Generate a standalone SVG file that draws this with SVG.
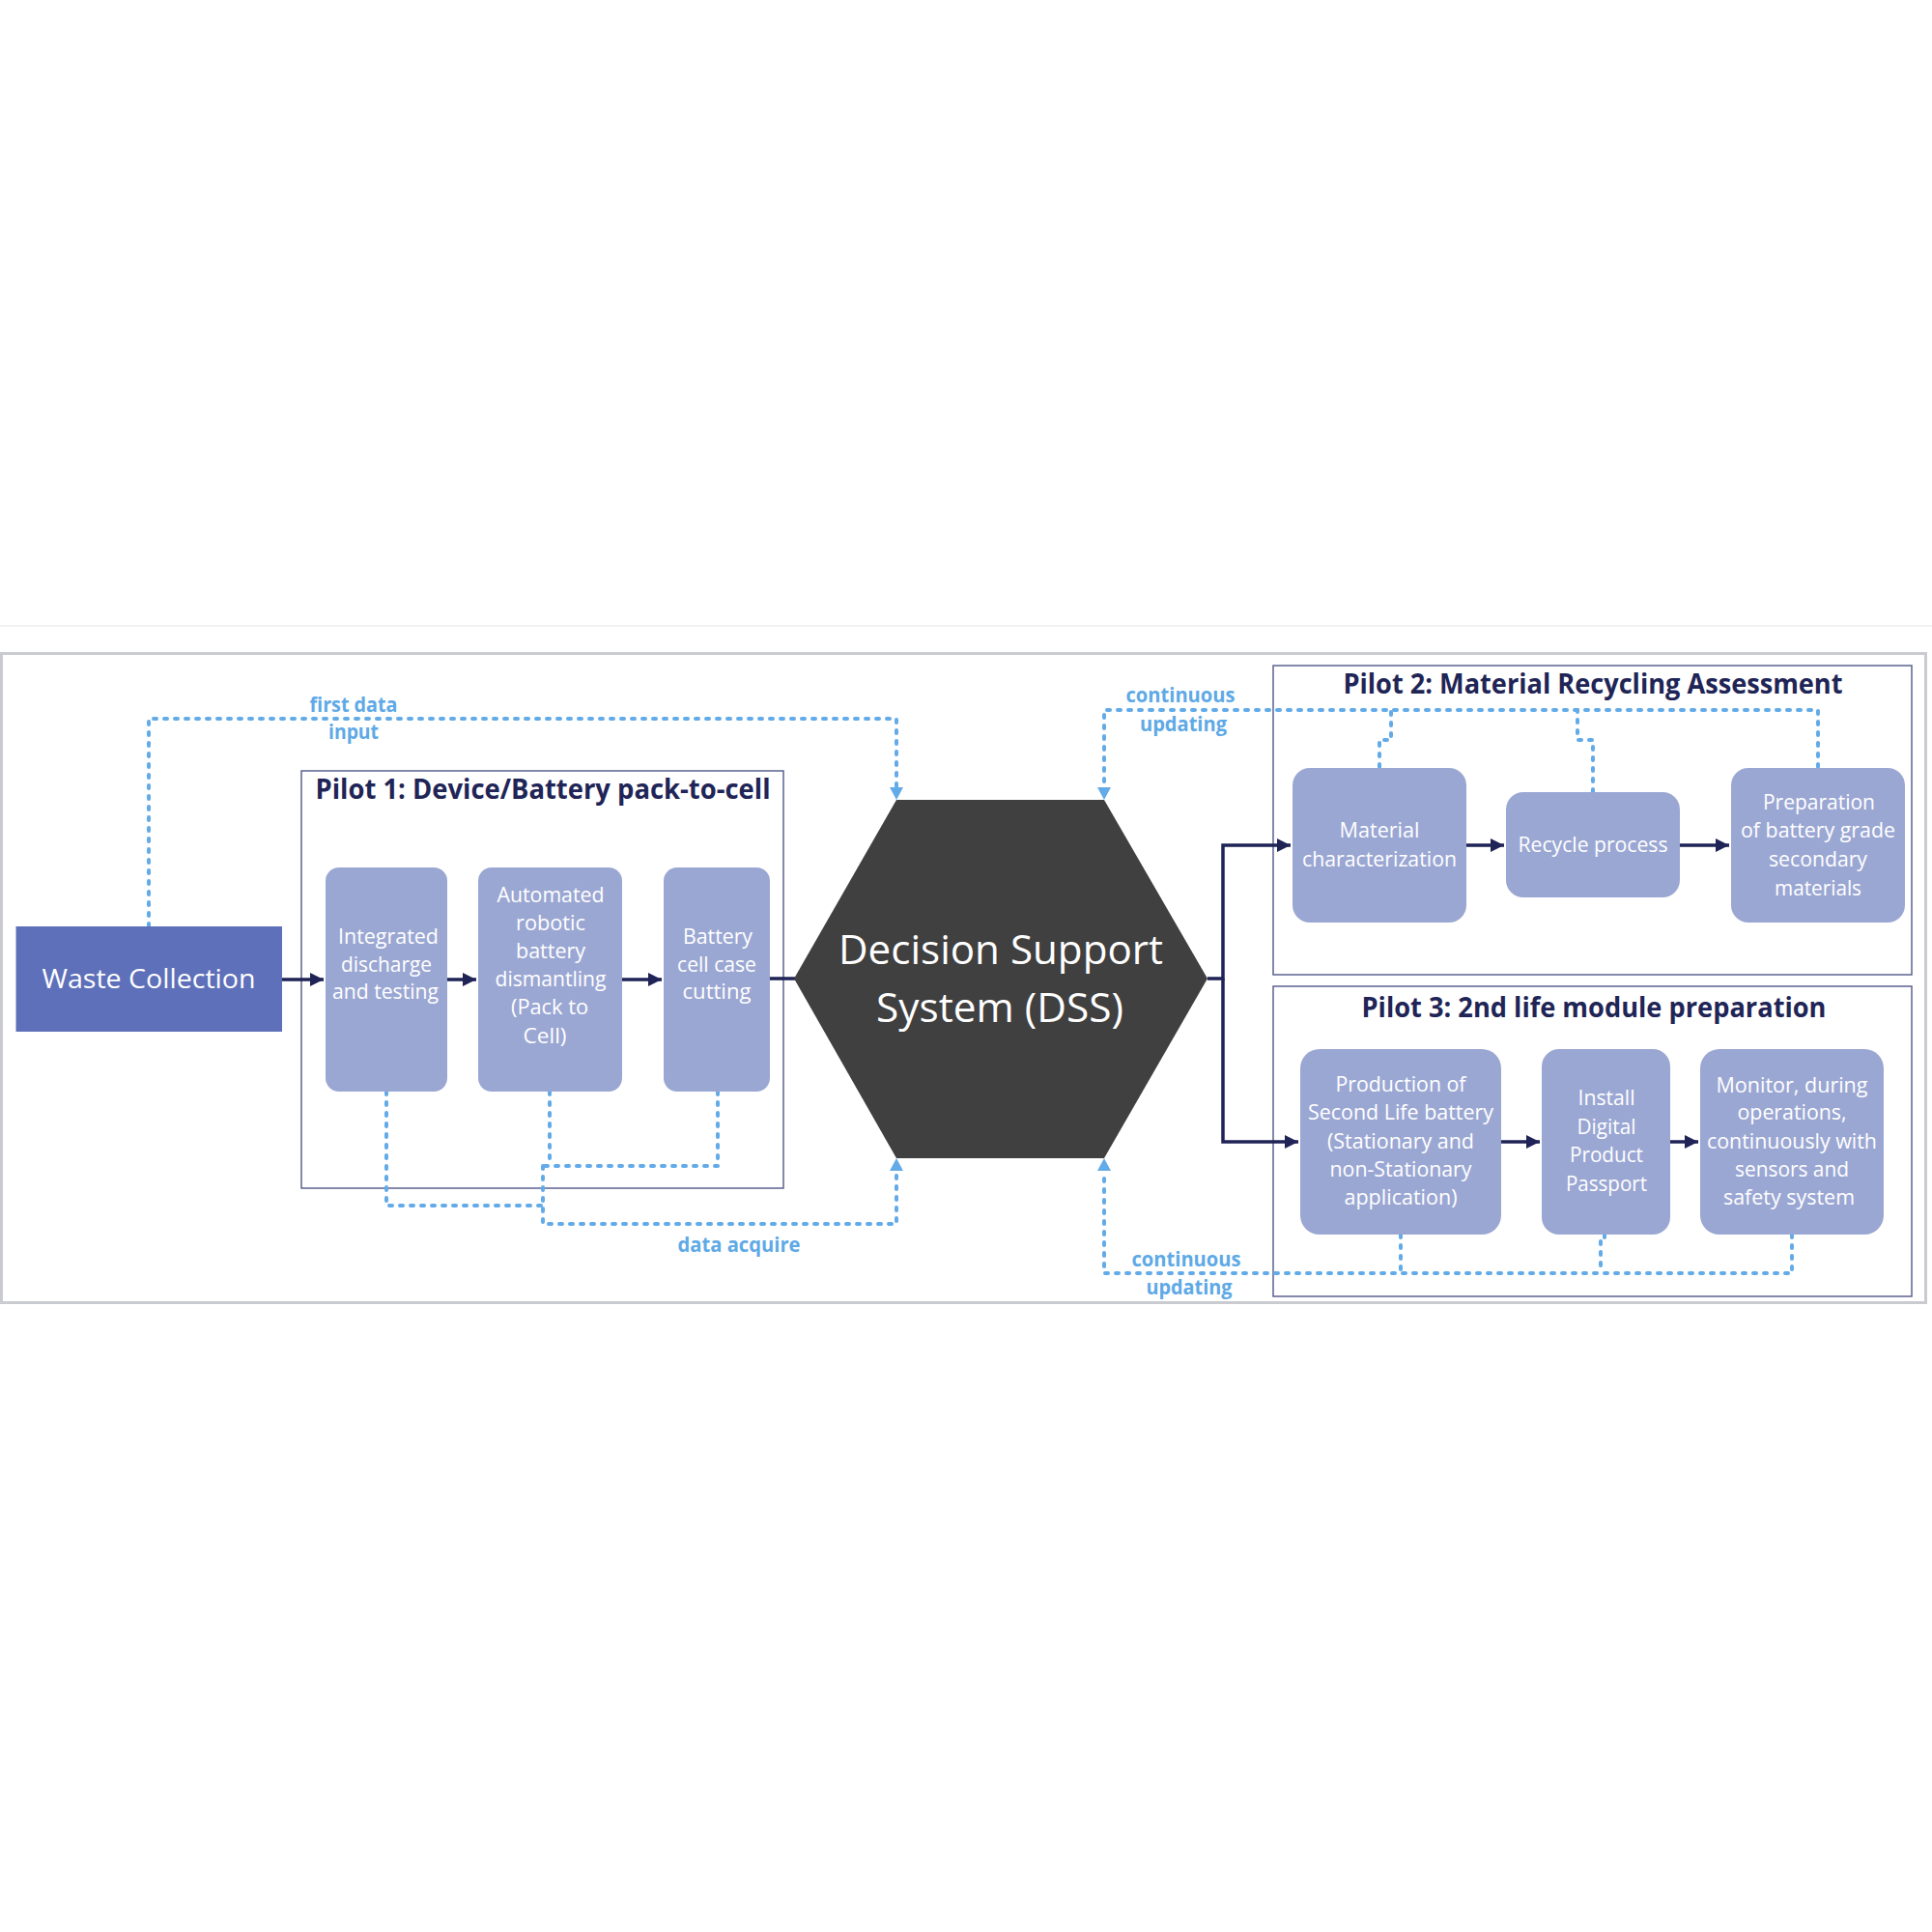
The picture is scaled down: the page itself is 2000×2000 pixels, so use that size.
<svg xmlns="http://www.w3.org/2000/svg" width="2000" height="2000" viewBox="0 0 2000 2000">
<style>
.box{fill:#9BA7D3;}
.bt{font-family:"Open Sans","Liberation Sans",sans-serif;font-size:22px;fill:#ffffff;text-anchor:middle;}
.title{font-family:"Open Sans","Liberation Sans",sans-serif;font-size:28px;font-weight:bold;fill:#1F2556;text-anchor:middle;}
.lbl{font-family:"Open Sans","Liberation Sans",sans-serif;font-size:21px;font-weight:bold;fill:#5EA9E6;text-anchor:middle;}
.pilot{fill:none;stroke:#5C6290;stroke-width:1.5;}
.solid{fill:none;stroke:#1F2356;stroke-width:3.5;}
.dash{fill:none;stroke:#62ABE8;stroke-width:4;stroke-dasharray:3 8;stroke-linecap:round;stroke-linejoin:round;}
</style>
<defs>
<marker id="arr" markerWidth="4" markerHeight="4" refX="4" refY="2" orient="auto" markerUnits="strokeWidth">
<path d="M0,0 L4,2 L0,4 Z" fill="#1F2356"/>
</marker>
</defs>
<rect x="0" y="0" width="2000" height="2000" fill="#ffffff"/>
<line x1="0" y1="648" x2="2000" y2="648" stroke="#EEEEEE" stroke-width="1.5"/>
<rect x="1.5" y="676.5" width="1992" height="672" fill="#ffffff" stroke="#C9CBD0" stroke-width="3"/>

<g id="pilot1">
<rect class="pilot" x="312" y="798" width="499" height="432"/>
<text class="title" x="562" y="827" textLength="471" lengthAdjust="spacingAndGlyphs">Pilot 1: Device/Battery pack-to-cell</text>
</g>
<g id="pilot2">
<rect class="pilot" x="1318" y="689" width="661" height="320"/>
<text class="title" x="1649" y="718" textLength="517" lengthAdjust="spacingAndGlyphs">Pilot 2: Material Recycling Assessment</text>
</g>
<g id="pilot3">
<rect class="pilot" x="1318" y="1021" width="661" height="321"/>
<text class="title" x="1650" y="1053" textLength="481" lengthAdjust="spacingAndGlyphs">Pilot 3: 2nd life module preparation</text>
</g>

<g id="connectors">
<path class="solid" d="M292,1014 H335" marker-end="url(#arr)"/>
<path class="solid" d="M463,1014 H493" marker-end="url(#arr)"/>
<path class="solid" d="M644,1014 H685" marker-end="url(#arr)"/>
<path class="solid" d="M797,1013 H823"/>
<path class="solid" d="M1250,1013 H1266 V875 H1336" marker-end="url(#arr)"/>
<path class="solid" d="M1266,1013 V1182 H1344" marker-end="url(#arr)"/>
<path class="solid" d="M1518,875 H1557" marker-end="url(#arr)"/>
<path class="solid" d="M1739,875 H1790" marker-end="url(#arr)"/>
<path class="solid" d="M1554,1182 H1594" marker-end="url(#arr)"/>
<path class="solid" d="M1729,1182 H1758" marker-end="url(#arr)"/>

<path class="dash" d="M154,959 V744 H928 V816"/>
<path d="M921,815 L935,815 L928,828 Z" fill="#62ABE8"/>
<path class="dash" d="M1882,794 V735 H1143 V816"/>
<path d="M1136,815 L1150,815 L1143,828 Z" fill="#62ABE8"/>
<path class="dash" d="M1428,794 V766 H1440 V735"/>
<path class="dash" d="M1649,820 V766 H1633 V735"/>
<path class="dash" d="M1855,1278 V1318 H1143 V1212"/>
<path d="M1136,1212 L1150,1212 L1143,1199 Z" fill="#62ABE8"/>
<path class="dash" d="M1450,1278 V1318"/>
<path class="dash" d="M1661,1278 V1284 H1657 V1318"/>
<path class="dash" d="M400,1130 V1248 H562"/>
<path class="dash" d="M743,1130 V1207 H562"/>
<path class="dash" d="M569,1130 V1207"/>
<path class="dash" d="M562,1207 V1267 H928 V1212"/>
<path d="M921,1212 L935,1212 L928,1199 Z" fill="#62ABE8"/>

<text class="lbl" x="366" y="737" textLength="91" lengthAdjust="spacingAndGlyphs">first data</text>
<text class="lbl" x="366" y="765" textLength="52" lengthAdjust="spacingAndGlyphs">input</text>
<text class="lbl" x="765" y="1296" textLength="127" lengthAdjust="spacingAndGlyphs">data acquire</text>
<text class="lbl" x="1222" y="727" textLength="113" lengthAdjust="spacingAndGlyphs">continuous</text>
<text class="lbl" x="1225" y="757" textLength="90" lengthAdjust="spacingAndGlyphs">updating</text>
<text class="lbl" x="1228" y="1311" textLength="113" lengthAdjust="spacingAndGlyphs">continuous</text>
<text class="lbl" x="1231" y="1340" textLength="89" lengthAdjust="spacingAndGlyphs">updating</text>
</g>

<g id="waste">
<rect x="16.5" y="959" width="275.5" height="109" fill="#5E70BA"/>
<text x="154" y="1023" font-family="Open Sans, Liberation Sans, sans-serif" font-size="28" fill="#ffffff" text-anchor="middle" textLength="221" lengthAdjust="spacingAndGlyphs">Waste Collection</text>
</g>

<g id="box1">
<rect class="box" x="337" y="898" width="126" height="232" rx="14"/>
<text class="bt" x="402" y="977" textLength="104" lengthAdjust="spacingAndGlyphs">Integrated</text>
<text class="bt" x="400" y="1006" textLength="94" lengthAdjust="spacingAndGlyphs">discharge</text>
<text class="bt" x="399" y="1034" textLength="110" lengthAdjust="spacingAndGlyphs">and testing</text>
</g>
<g id="box2">
<rect class="box" x="495" y="898" width="149" height="232" rx="14"/>
<text class="bt" x="570" y="934" textLength="111" lengthAdjust="spacingAndGlyphs">Automated</text>
<text class="bt" x="570" y="963" textLength="72" lengthAdjust="spacingAndGlyphs">robotic</text>
<text class="bt" x="570" y="992" textLength="72" lengthAdjust="spacingAndGlyphs">battery</text>
<text class="bt" x="570" y="1021" textLength="115" lengthAdjust="spacingAndGlyphs">dismantling</text>
<text class="bt" x="569" y="1050" textLength="80" lengthAdjust="spacingAndGlyphs">(Pack to</text>
<text class="bt" x="564" y="1080" textLength="45" lengthAdjust="spacingAndGlyphs">Cell)</text>
</g>
<g id="box3">
<rect class="box" x="687" y="898" width="110" height="232" rx="14"/>
<text class="bt" x="743" y="977" textLength="72" lengthAdjust="spacingAndGlyphs">Battery</text>
<text class="bt" x="742" y="1006" textLength="82" lengthAdjust="spacingAndGlyphs">cell case</text>
<text class="bt" x="742" y="1034" textLength="71" lengthAdjust="spacingAndGlyphs">cutting</text>
</g>

<g id="dss">
<polygon points="822,1013 928,828 1143,828 1250,1013 1143,1199 928,1199" fill="#404040"/>
<text x="1036" y="998" font-family="Open Sans, Liberation Sans, sans-serif" font-size="42" fill="#ffffff" text-anchor="middle" textLength="336" lengthAdjust="spacingAndGlyphs">Decision Support</text>
<text x="1035" y="1058" font-family="Open Sans, Liberation Sans, sans-serif" font-size="42" fill="#ffffff" text-anchor="middle" textLength="256" lengthAdjust="spacingAndGlyphs">System (DSS)</text>
</g>

<g id="material">
<rect class="box" x="1338" y="795" width="180" height="160" rx="18"/>
<text class="bt" x="1428" y="867" textLength="83" lengthAdjust="spacingAndGlyphs">Material</text>
<text class="bt" x="1428" y="897" textLength="160" lengthAdjust="spacingAndGlyphs">characterization</text>
</g>
<g id="recycle">
<rect class="box" x="1559" y="820" width="180" height="109" rx="18"/>
<text class="bt" x="1649" y="882" textLength="155" lengthAdjust="spacingAndGlyphs">Recycle process</text>
</g>
<g id="preparation">
<rect class="box" x="1792" y="795" width="180" height="160" rx="18"/>
<text class="bt" x="1883" y="838" textLength="116" lengthAdjust="spacingAndGlyphs">Preparation</text>
<text class="bt" x="1882" y="867" textLength="160" lengthAdjust="spacingAndGlyphs">of battery grade</text>
<text class="bt" x="1882" y="897" textLength="102" lengthAdjust="spacingAndGlyphs">secondary</text>
<text class="bt" x="1882" y="927" textLength="90" lengthAdjust="spacingAndGlyphs">materials</text>
</g>

<g id="production">
<rect class="box" x="1346" y="1086" width="208" height="192" rx="20"/>
<text class="bt" x="1450" y="1130" textLength="135" lengthAdjust="spacingAndGlyphs">Production of</text>
<text class="bt" x="1450" y="1159" textLength="192" lengthAdjust="spacingAndGlyphs">Second Life battery</text>
<text class="bt" x="1450" y="1189" textLength="152" lengthAdjust="spacingAndGlyphs">(Stationary and</text>
<text class="bt" x="1450" y="1218" textLength="147" lengthAdjust="spacingAndGlyphs">non-Stationary</text>
<text class="bt" x="1450" y="1247" textLength="117" lengthAdjust="spacingAndGlyphs">application)</text>
</g>
<g id="install">
<rect class="box" x="1596" y="1086" width="133" height="192" rx="18"/>
<text class="bt" x="1663" y="1144" textLength="59" lengthAdjust="spacingAndGlyphs">Install</text>
<text class="bt" x="1663" y="1174" textLength="61" lengthAdjust="spacingAndGlyphs">Digital</text>
<text class="bt" x="1663" y="1203" textLength="76" lengthAdjust="spacingAndGlyphs">Product</text>
<text class="bt" x="1663" y="1233" textLength="84" lengthAdjust="spacingAndGlyphs">Passport</text>
</g>
<g id="monitor">
<rect class="box" x="1760" y="1086" width="190" height="192" rx="20"/>
<text class="bt" x="1855" y="1131" textLength="157" lengthAdjust="spacingAndGlyphs">Monitor, during</text>
<text class="bt" x="1855" y="1159" textLength="113" lengthAdjust="spacingAndGlyphs">operations,</text>
<text class="bt" x="1855" y="1189" textLength="176" lengthAdjust="spacingAndGlyphs">continuously with</text>
<text class="bt" x="1855" y="1218" textLength="118" lengthAdjust="spacingAndGlyphs">sensors and</text>
<text class="bt" x="1852" y="1247" textLength="136" lengthAdjust="spacingAndGlyphs">safety system</text>
</g>
</svg>
